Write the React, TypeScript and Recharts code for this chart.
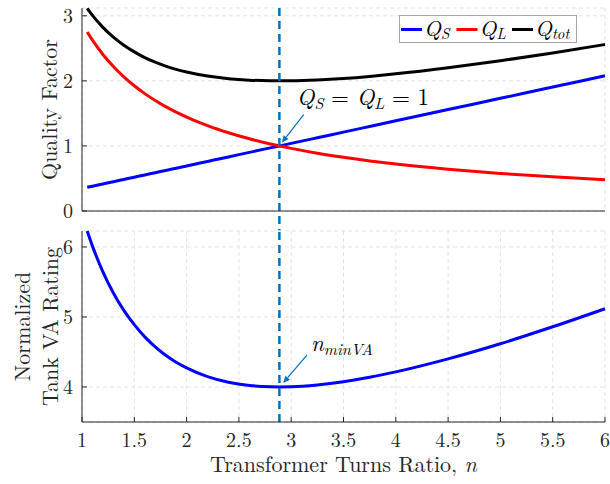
import {
  LineChart,
  Line,
  XAxis,
  YAxis,
  CartesianGrid,
  ReferenceLine,
  Legend,
} from "recharts"

// turns ratio samples and values
const nValues = [1.05, 1.1, 1.2, 1.3, 1.4, 1.5, 1.6, 1.7, 1.8, 1.9, 2.0, 2.2, 2.4, 2.6, 2.8, 2.89, 3.0, 3.25, 3.5, 3.75, 4.0, 4.5, 5.0, 5.5, 6.0]
const qS = [0.364, 0.381, 0.416, 0.45, 0.485, 0.52, 0.554, 0.589, 0.623, 0.658, 0.693, 0.762, 0.831, 0.901, 0.97, 1.0, 1.039, 1.126, 1.212, 1.299, 1.386, 1.559, 1.732, 1.905, 2.078]
const qL = [2.75, 2.625, 2.406, 2.221, 2.062, 1.925, 1.804, 1.698, 1.604, 1.519, 1.444, 1.312, 1.203, 1.11, 1.031, 1.0, 0.962, 0.888, 0.825, 0.77, 0.722, 0.642, 0.577, 0.525, 0.481]
const qTot = [3.114, 3.006, 2.822, 2.671, 2.547, 2.445, 2.358, 2.287, 2.227, 2.177, 2.137, 2.074, 2.034, 2.011, 2.001, 2.0, 2.001, 2.014, 2.037, 2.069, 2.108, 2.201, 2.309, 2.43, 2.559]
const vaRating = [6.228, 6.012, 5.644, 5.342, 5.094, 4.89, 4.716, 4.574, 4.454, 4.354, 4.274, 4.148, 4.068, 4.022, 4.002, 4.0, 4.002, 4.028, 4.074, 4.138, 4.216, 4.402, 4.618, 4.86, 5.118]

const xTicks = [1, 1.5, 2, 2.5, 3, 3.5, 4, 4.5, 5, 5.5, 6]
const qTicks = [0, 1, 2, 3]
const vaTicks = [4, 5, 6]
const nOpt = 2.887
const legendOrder = ["qs", "ql", "qtot"]

const data = nValues.map((n, i) => ({
  n,
  qs: qS[i],
  ql: qL[i],
  qtot: qTot[i],
  va: vaRating[i],
}))

const FONT = "'Latin Modern Roman'"
const INK = "#262626"
const MARK = "#0072BD"
const tickStyle = { fontSize: 20, fill: INK }

function Arrow(props: any) {
  const { x1, y1, x2, y2, children } = props
  const ang = Math.atan2(y2 - y1, x2 - x1)
  const L = 7
  const W = 3
  const bx = x2 - L * Math.cos(ang)
  const by = y2 - L * Math.sin(ang)
  const px = -Math.sin(ang) * W
  const py = Math.cos(ang) * W
  return (
    <g>
      <line x1={x1} y1={y1} x2={bx} y2={by} stroke={MARK} strokeWidth={1.2} />
      <polygon
        points={`${x2},${y2} ${bx + px},${by + py} ${bx - px},${by - py}`}
        fill={MARK}
      />
      {children(x1, y1)}
    </g>
  )
}

function LegendBox({ payload }: any) {
  const names: Record<string, string> = { qs: "S", ql: "L", qtot: "tot" }
  const items = legendOrder
    .map((k) => (payload || []).find((p: any) => p.dataKey === k))
    .filter(Boolean)
  return (
    <svg width={178} height={28} style={{ display: "block", overflow: "visible" }}>
      <rect x={0.5} y={0.5} width={177} height={27} fill="#fff" stroke="#a6a6a6" />
      {items.map((p: any, i: number) => {
        const x0 = 2 + i * 55.5
        return (
          <g key={p.dataKey}>
            <line x1={x0} y1={14.5} x2={x0 + 21} y2={14.5} stroke={p.color} strokeWidth={3} />
            <text x={x0 + 23} y={21} fontSize={22} fill="#000">
              <tspan fontStyle="italic">Q</tspan>
              <tspan fontStyle="italic" fontSize={15} dy={3}>
                {names[p.dataKey]}
              </tspan>
            </text>
          </g>
        )
      })}
    </svg>
  )
}

export default function App() {
  return (
    <div
      style={{
        position: "absolute",
        left: 0,
        top: 0,
        width: 610,
        height: 484,
        background: "#fff",
        fontFamily: FONT,
      }}
    >
      <style>{`svg text, svg tspan { font-family: ${FONT} !important; }`}</style>
      <div style={{ position: "absolute", left: 0, top: 0 }}>
        <LineChart
          width={610}
          height={233}
          data={data}
          margin={{ top: 8, right: 5, bottom: 0, left: 0 }}
        >
          <CartesianGrid strokeDasharray="4 3" stroke="#e3e3e3" />
          <XAxis
            dataKey="n"
            type="number"
            domain={[1, 6]}
            ticks={xTicks}
            height={22}
            tick={false}
            tickSize={-5}
            stroke={INK}
          />
          <XAxis
            xAxisId="top"
            orientation="top"
            type="number"
            domain={[1, 6]}
            ticks={xTicks}
            height={0}
            tick={false}
            tickSize={-5}
            stroke={INK}
          />
          <YAxis
            type="number"
            domain={[0, 3.12]}
            ticks={qTicks}
            width={82}
            tickSize={-5}
            tickMargin={14}
            tick={tickStyle}
            stroke={INK}
            label={{
              content: ({ viewBox }: any) => {
                const cy = viewBox.y + viewBox.height / 2
                return (
                  <text
                    x={47.5}
                    y={cy}
                    transform={`rotate(-90, 47.5, ${cy})`}
                    textAnchor="middle"
                    dominantBaseline="central"
                    fontSize={22}
                    fill={INK}
                  >
                    Quality Factor
                  </text>
                )
              },
            }}
          />
          <YAxis
            yAxisId="right"
            orientation="right"
            type="number"
            domain={[0, 3.12]}
            ticks={qTicks}
            width={0}
            tick={false}
            tickSize={-5}
            stroke={INK}
          />
          <Line dataKey="qs" name="Q_S" type="monotone" stroke="#0000ff" strokeWidth={3} dot={false} isAnimationActive={false} />
          <Line dataKey="ql" name="Q_L" type="monotone" stroke="#ff0000" strokeWidth={3} dot={false} isAnimationActive={false} />
          <Line dataKey="qtot" name="Q_tot" type="monotone" stroke="#000000" strokeWidth={3} dot={false} isAnimationActive={false} />
          <ReferenceLine
            segment={[
              { x: nOpt, y: 3.12 },
              { x: nOpt, y: -0.3 },
            ]}
            ifOverflow="visible"
            stroke={MARK}
            strokeWidth={2.5}
            strokeDasharray="8 5"
          />
          <ReferenceLine
            segment={[
              { x: 3.12, y: 1.48 },
              { x: 2.91, y: 1.05 },
            ]}
            ifOverflow="visible"
            shape={(p: any) => (
              <Arrow {...p}>
                {(x: number, y: number) => (
                  <text x={x - 7} y={y - 10} fontSize={23} fill="#000">
                    <tspan fontStyle="italic">Q</tspan>
                    <tspan fontStyle="italic" fontSize={16} dy={4}>S</tspan>
                    <tspan dy={-4}> = </tspan>
                    <tspan fontStyle="italic">Q</tspan>
                    <tspan fontStyle="italic" fontSize={16} dy={4}>L</tspan>
                    <tspan dy={-4}> = 1</tspan>
                  </text>
                )}
              </Arrow>
            )}
          />
          <Legend
            layout="vertical"
            align="center"
            verticalAlign="middle"
            content={<LegendBox />}
            wrapperStyle={{ position: "absolute", left: 399, top: 15, width: 178, height: 28 }}
          />
        </LineChart>
      </div>

      <div style={{ position: "absolute", left: 0, top: 222 }}>
        <LineChart
          width={610}
          height={262}
          data={data}
          margin={{ top: 9, right: 5, bottom: 0, left: 0 }}
        >
          <CartesianGrid strokeDasharray="4 3" stroke="#e3e3e3" />
          <XAxis
            dataKey="n"
            type="number"
            domain={[1, 6]}
            ticks={xTicks}
            height={62}
            tickSize={-5}
            tickMargin={16}
            tick={tickStyle}
            stroke={INK}
            label={{
              content: ({ viewBox }: any) => (
                <text
                  x={viewBox.x + viewBox.width / 2}
                  y={viewBox.y + 50}
                  textAnchor="middle"
                  fontSize={22}
                  fill={INK}
                >
                  Transformer Turns Ratio, <tspan fontStyle="italic">n</tspan>
                </text>
              ),
            }}
          />
          <XAxis
            xAxisId="top"
            orientation="top"
            type="number"
            domain={[1, 6]}
            ticks={xTicks}
            height={0}
            tick={false}
            tickSize={-5}
            stroke={INK}
          />
          <YAxis
            type="number"
            domain={[3.5, 6.22]}
            ticks={vaTicks}
            width={82}
            tickSize={-5}
            tickMargin={14}
            tick={tickStyle}
            stroke={INK}
            label={{
              content: ({ viewBox }: any) => {
                const cy = viewBox.y + viewBox.height / 2
                return (
                  <g fontSize={22} fill={INK}>
                    <text
                      x={20}
                      y={cy}
                      transform={`rotate(-90, 20, ${cy})`}
                      textAnchor="middle"
                      dominantBaseline="central"
                    >
                      Normalized
                    </text>
                    <text
                      x={48}
                      y={cy}
                      transform={`rotate(-90, 48, ${cy})`}
                      textAnchor="middle"
                      dominantBaseline="central"
                    >
                      Tank VA Rating
                    </text>
                  </g>
                )
              },
            }}
          />
          <YAxis
            yAxisId="right"
            orientation="right"
            type="number"
            domain={[3.5, 6.22]}
            ticks={vaTicks}
            width={0}
            tick={false}
            tickSize={-5}
            stroke={INK}
          />
          <Line dataKey="va" type="monotone" stroke="#0000ff" strokeWidth={3} dot={false} isAnimationActive={false} />
          <ReferenceLine x={nOpt} ifOverflow="visible" stroke={MARK} strokeWidth={2.5} strokeDasharray="8 5" />
          <ReferenceLine
            segment={[
              { x: 3.15, y: 4.456 },
              { x: 2.923, y: 4.056 },
            ]}
            ifOverflow="visible"
            shape={(p: any) => (
              <Arrow {...p}>
                {(x: number, y: number) => (
                  <text x={x + 4} y={y - 4} fontSize={23} fill="#000" fontStyle="italic">
                    n
                    <tspan fontSize={16} dy={4}>minVA</tspan>
                  </text>
                )}
              </Arrow>
            )}
          />
        </LineChart>
      </div>
    </div>
  )
}
